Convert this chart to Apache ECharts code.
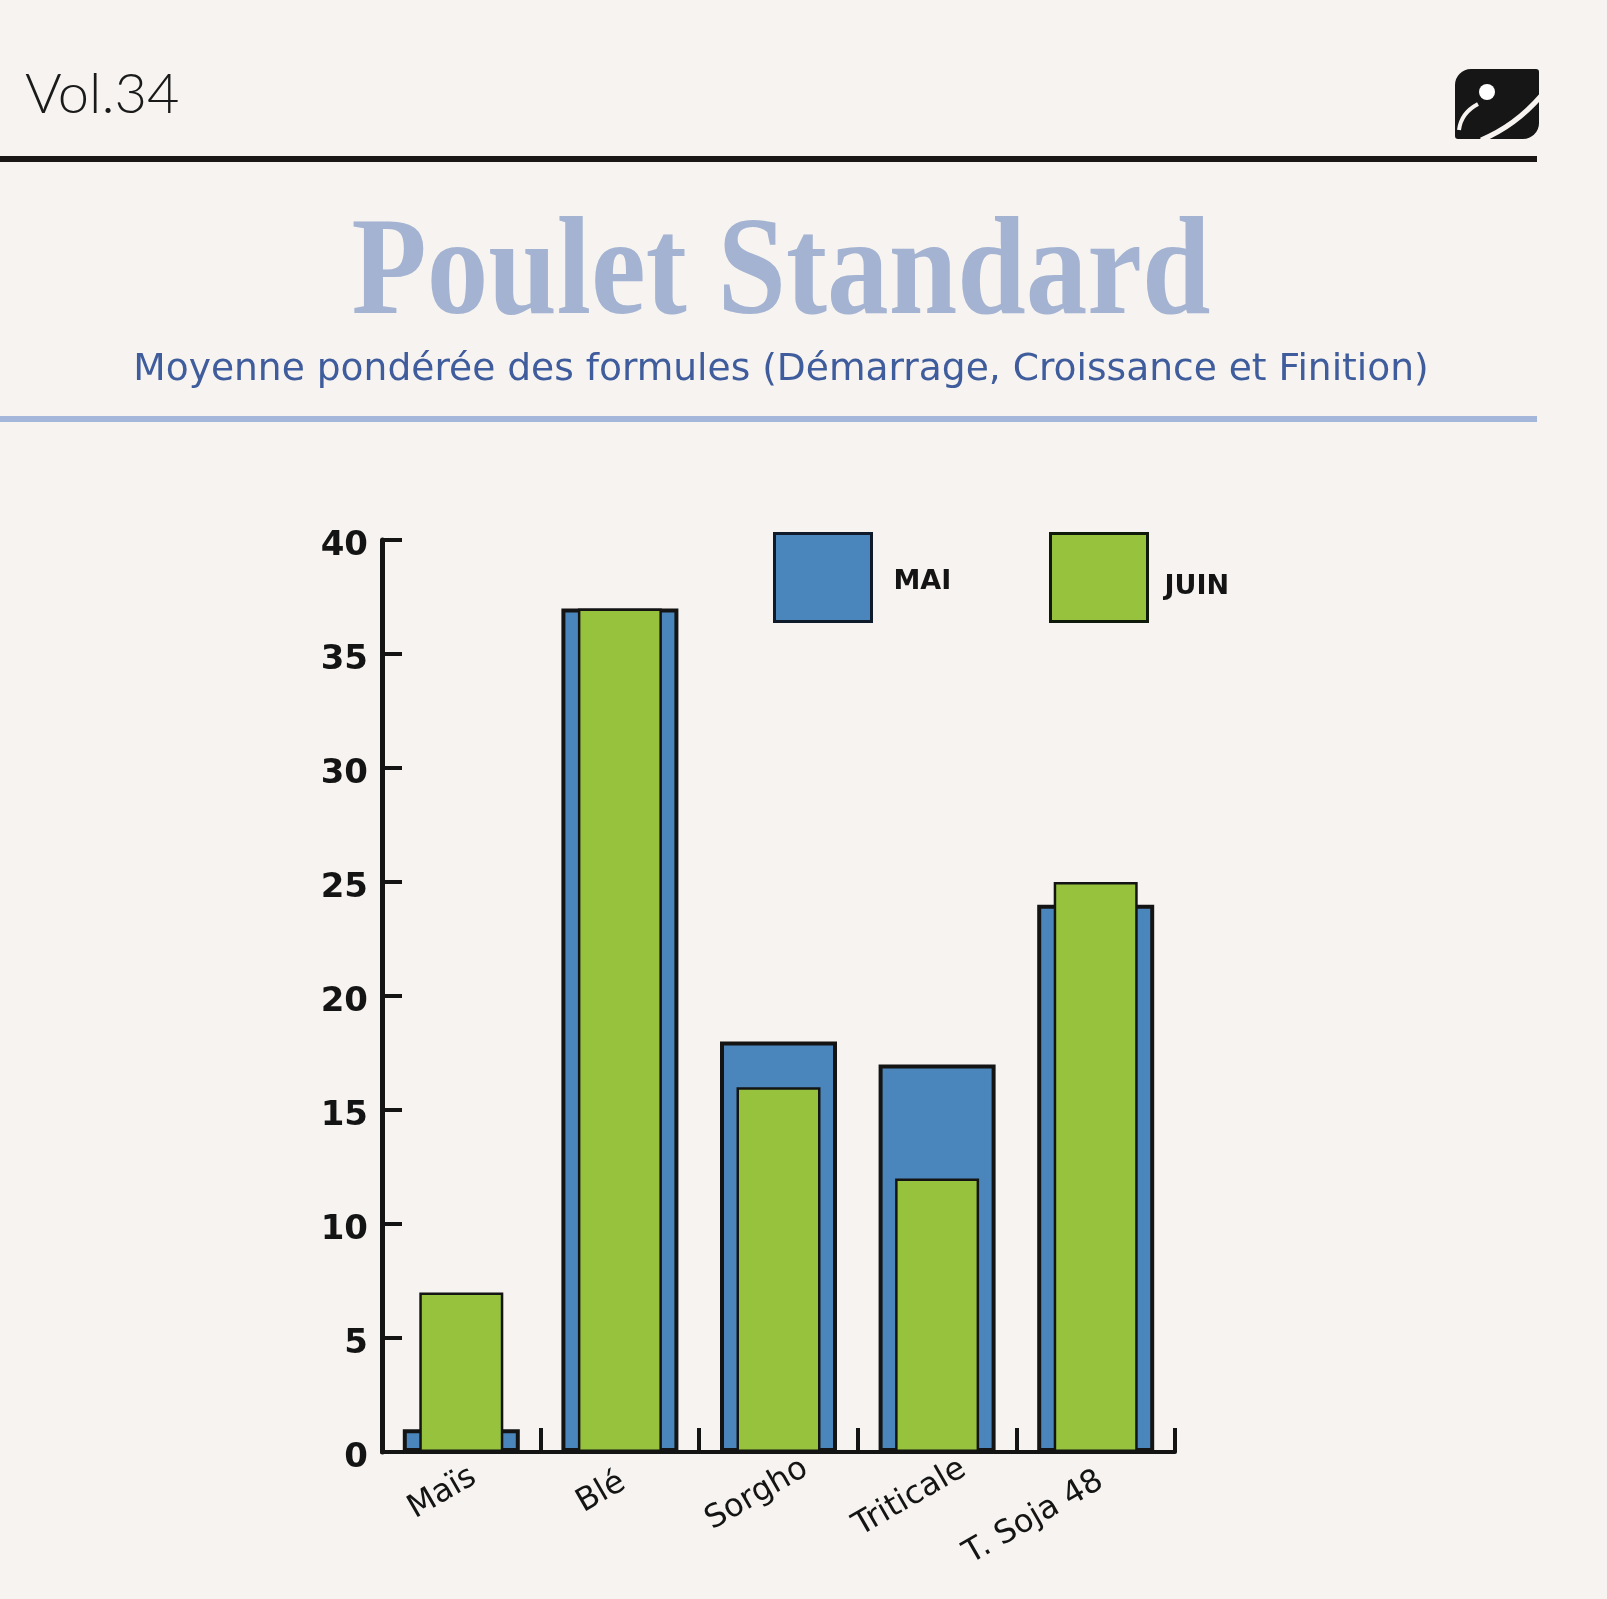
<!DOCTYPE html>
<html><head><meta charset="utf-8">
<script src="https://cdn.jsdelivr.net/npm/echarts@6/dist/echarts.min.js"></script>
<style>html,body{margin:0;padding:0;background:#f6f3f0;}#c{width:1607px;height:1599px;}</style>
</head><body><div id="c"></div>
<script>
const categories = ['Maïs', 'Blé', 'Sorgho', 'Triticale', 'T. Soja 48'];
const maiValues = [1, 37, 18, 17, 24];
const juinValues = [7, 37, 16, 12, 25];
const yTicks = { min: 0, max: 40, interval: 5 };
const seriesNames = ['MAI', 'JUIN'];

// per-label nudges (padding in the rotated label frame) to mimic the hand-placed labels
const labelPadding = [[0, 44, 27, 0], [0, 43, 26, 0], [0, 50, 17, 0], [0, 63, 20, 0], [0, 143, 33, 0]];

const chart = echarts.init(document.getElementById('c'), null, { renderer: 'canvas' });
const ink = '#141414';
const blue = '#4a86bb';
const green = '#97c23d';
const bg = '#f6f3f0';

const catItems = categories.map((c, i) => ({
  value: c,
  textStyle: { align: 'center', verticalAlign: 'middle', padding: labelPadding[i] }
}));

const legendFont = { fontFamily: 'DejaVu Sans', fontWeight: 'bold', fontSize: 27, color: ink };

chart.setOption({
  backgroundColor: bg,
  animation: false,
  grid: { left: 382, right: 432, top: 540, bottom: 147, outerBoundsMode: 'none' },
  legend: [
    { data: [seriesNames[0]], left: 773, top: 532, padding: 0, icon: 'rect', itemWidth: 97, itemHeight: 88,
      itemStyle: { borderColor: '#0f1a2a', borderWidth: 3 },
      formatter: '{t|{name}}',
      textStyle: Object.assign({ padding: [0, 0, 0, 17], rich: { t: Object.assign({ lineHeight: 36, verticalAlign: 'bottom' }, legendFont) } }, legendFont) },
    { data: [seriesNames[1]], left: 1049, top: 532, padding: 0, icon: 'rect', itemWidth: 97, itemHeight: 88,
      itemStyle: { borderColor: '#0f1a0a', borderWidth: 3 },
      formatter: '{t|{name}}',
      textStyle: Object.assign({ padding: [0, 0, 0, 12], rich: { t: Object.assign({ lineHeight: 46, verticalAlign: 'bottom' }, legendFont) } }, legendFont) }
  ],
  xAxis: [
    { type: 'category', data: catItems, gridIndex: 0, boundaryGap: true,
      axisLine: { show: true, lineStyle: { color: ink, width: 4 } },
      axisTick: { show: true, inside: true, length: 24, lineStyle: { color: ink, width: 4 } },
      axisLabel: { rotate: 30, margin: 30, fontFamily: 'DejaVu Sans', fontSize: 32, color: ink, interval: 0 },
      splitLine: { show: false } },
    { type: 'category', data: categories, gridIndex: 0, show: false }
  ],
  yAxis: {
    type: 'value', min: yTicks.min, max: yTicks.max, interval: yTicks.interval,
    axisLine: { show: true, lineStyle: { color: ink, width: 5 } },
    axisTick: { show: true, inside: true, length: 20, lineStyle: { color: ink, width: 4 } },
    axisLabel: { margin: 14, fontFamily: 'DejaVu Sans', fontWeight: 'bold', fontSize: 34, color: ink,
      formatter: '{v|{value}}',
      rich: { v: { fontFamily: 'DejaVu Sans', fontWeight: 'bold', fontSize: 34, color: ink, lineHeight: 46, verticalAlign: 'bottom' } } },
    splitLine: { show: false }
  },
  series: [
    { name: seriesNames[0], type: 'bar', xAxisIndex: 0, data: maiValues, barWidth: 117,
      itemStyle: { color: blue, borderColor: ink, borderWidth: 4 } },
    { name: seriesNames[1], type: 'bar', xAxisIndex: 1, data: juinValues, barWidth: 84,
      itemStyle: { color: green, borderColor: ink, borderWidth: 2.5 } }
  ],
  graphic: [
    { type: 'text', left: 25, top: 67, style: { text: 'Vol.34', fontFamily: 'Lato', fontWeight: 300, fontSize: 56, fill: '#1a1a1a' } },
    { type: 'rect', shape: { x: 0, y: 156, width: 1537, height: 6 }, style: { fill: '#1a1616' } },
    { type: 'rect', shape: { x: 1455, y: 69, width: 84, height: 70, r: [16, 3, 16, 3] }, style: { fill: '#161616' } },
    { type: 'circle', shape: { cx: 1487, cy: 92, r: 8 }, style: { fill: '#ffffff' } },
    { type: 'bezierCurve', shape: { x1: 1459, y1: 130, x2: 1478, y2: 104, cpx1: 1461, cpy1: 113 }, style: { stroke: bg, lineWidth: 4, fill: null } },
    { type: 'bezierCurve', shape: { x1: 1481, y1: 140, x2: 1541, y2: 96, cpx1: 1515, cpy1: 126 }, style: { stroke: bg, lineWidth: 5, fill: null } },
    { type: 'text', x: 781, y: 207, scaleX: 0.88, style: { text: 'Poulet Standard', fontFamily: 'Liberation Serif', fontWeight: 'bold', fontSize: 140, fill: '#a3b3d1', align: 'center', verticalAlign: 'top' } },
    { type: 'text', x: 781, y: 351, style: { text: 'Moyenne pondérée des formules (Démarrage, Croissance et Finition)', fontFamily: 'DejaVu Sans', fontSize: 37.6, fill: '#3f5c9c', align: 'center', verticalAlign: 'top' } },
    { type: 'rect', shape: { x: 0, y: 416, width: 1537, height: 6 }, style: { fill: '#a4b6d9' } }
  ]
});
</script></body></html>
